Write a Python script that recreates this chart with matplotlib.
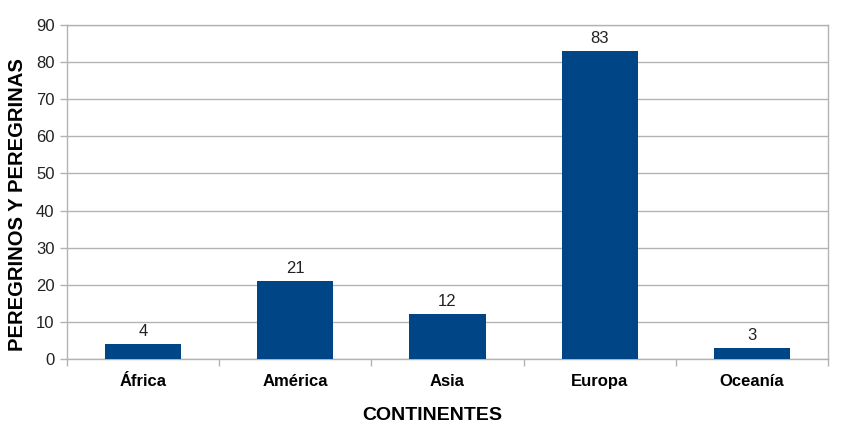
import matplotlib
matplotlib.use("Agg")
import matplotlib.pyplot as plt
import numpy as np

categories = ["África", "América", "Asia", "Europa", "Oceanía"]
values = [4, 21, 12, 83, 3]
yticks = [0, 10, 20, 30, 40, 50, 60, 70, 80, 90]

plt.rcParams['font.family'] = ['Liberation Sans', 'DejaVu Sans']

W, H = 851, 432
fig = plt.figure(figsize=(W/100, H/100), dpi=100)
ax = fig.add_axes([67/W, 1-359/H, (828-67)/W, (359-25)/H])

x = np.arange(len(categories))
bars = ax.bar(x, values, width=0.5, color="#004586", zorder=3)
for xi, v in zip(x, values):
    ax.text(xi, v + 1.4, str(v), ha='center', va='bottom', fontsize=12, color='#222222')

ax.set_xlim(-0.5, len(categories) - 0.5)
ax.set_ylim(0, 90)
ax.set_yticks(yticks)
ax.set_yticklabels([str(t) for t in yticks], fontsize=12, color='#222222')
ax.yaxis.grid(True, color='#b3b3b3', linewidth=1, zorder=0)
ax.set_axisbelow(True)

ax.set_xticks(x)
ax.set_xticklabels(categories, fontsize=12, fontweight='bold')
ax.tick_params(axis='x', length=0, pad=11)
ax.set_xticks(np.arange(-0.5, len(categories)), minor=True)
ax.tick_params(axis='x', which='minor', length=5, color='#b3b3b3', width=1)
ax.tick_params(axis='y', length=5, color='#b3b3b3', width=1, pad=4)

for s in ax.spines.values():
    s.set_color('#b3b3b3')
    s.set_linewidth(1)

fig.text(432.5/W, 1-416/H, "CONTINENTES", fontsize=14, fontweight='bold',
         ha='center', va='center')
fig.text(17.5/W, 1-205/H, "PEREGRINOS Y PEREGRINAS", fontsize=14.6, fontweight='bold',
         ha='center', va='center', rotation=90)

fig.savefig("out.png", dpi=100)
